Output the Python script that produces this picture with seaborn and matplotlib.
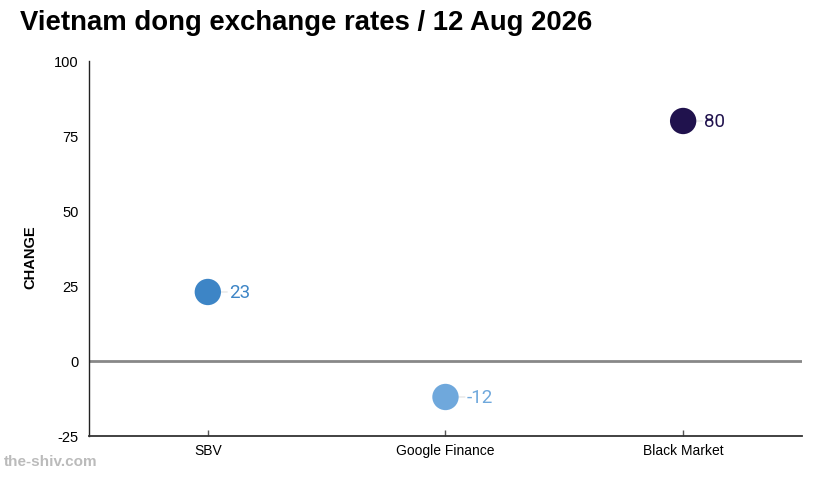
import matplotlib
matplotlib.use("Agg")
import matplotlib.pyplot as plt
import pandas as pd
import seaborn as sns

# data
sources = ["SBV", "Google Finance", "Black Market"]
changes = [23, -12, 80]
colors = ["#3d85c6", "#6fa8dc", "#20124d"]
y_ticks = [-25, 0, 25, 50, 75, 100]

df = pd.DataFrame({"source": sources, "change": changes})

sns.set_style("white")
plt.rcParams["font.family"] = ["Liberation Sans", "DejaVu Sans"]
plt.rcParams["axes.unicode_minus"] = False
plt.rcParams["text.color"] = "black"
plt.rcParams["axes.labelcolor"] = "black"
plt.rcParams["xtick.color"] = "black"
plt.rcParams["ytick.color"] = "black"

fig = plt.figure(figsize=(8.18, 4.85), dpi=100)
ax = fig.add_axes([0.1088, 0.099, 0.8716, 0.7732])

sns.scatterplot(data=df, x="source", y="change", hue="source",
                palette=colors, s=360, linewidth=0, legend=False, ax=ax, zorder=3)

ax.set_xlim(-0.5, 2.5)
ax.set_ylim(-25, 100)
ax.set_yticks(y_ticks)
ax.axhline(0, color="#888888", lw=2, zorder=1)

# value labels with a faint leader
for i, (v, c) in enumerate(zip(changes, colors)):
    ax.annotate("", xy=(i, v), xytext=(14, 0), textcoords="offset points",
                arrowprops=dict(arrowstyle="-", color="#e0e0e0", lw=0.8,
                                shrinkA=0, shrinkB=0), zorder=2)
    ax.annotate(str(v), xy=(i, v), xytext=(15, 0), textcoords="offset points",
                ha="left", va="center", color=c, fontsize=13.5,
                family=["Roboto", "DejaVu Sans"])

for s in ["top", "right"]:
    ax.spines[s].set_visible(False)
ax.spines["left"].set_color("#222222")
ax.spines["left"].set_linewidth(1)
ax.spines["bottom"].set_color("#333333")
ax.spines["bottom"].set_linewidth(1.3)

ax.tick_params(axis="x", direction="in", length=4, width=1, color="#555555",
               bottom=True, labelsize=10, pad=5)
ax.tick_params(axis="y", left=False, labelsize=10.5, pad=4)
ax.set_xlabel("")
ax.set_ylabel("CHANGE", fontsize=10.5, fontweight="bold")
ax.yaxis.set_label_coords(-0.072, 0.48)

fig.text(0.024, 0.953, "Vietnam dong exchange rates / 12 Aug 2026",
         fontsize=19.8, fontweight="bold", va="center", ha="left")
fig.text(0.005, 0.047, "the-shiv.com", fontsize=11, fontweight="bold",
         color="#bbbbbb", va="center", ha="left")

fig.savefig("out.png", dpi=100)
